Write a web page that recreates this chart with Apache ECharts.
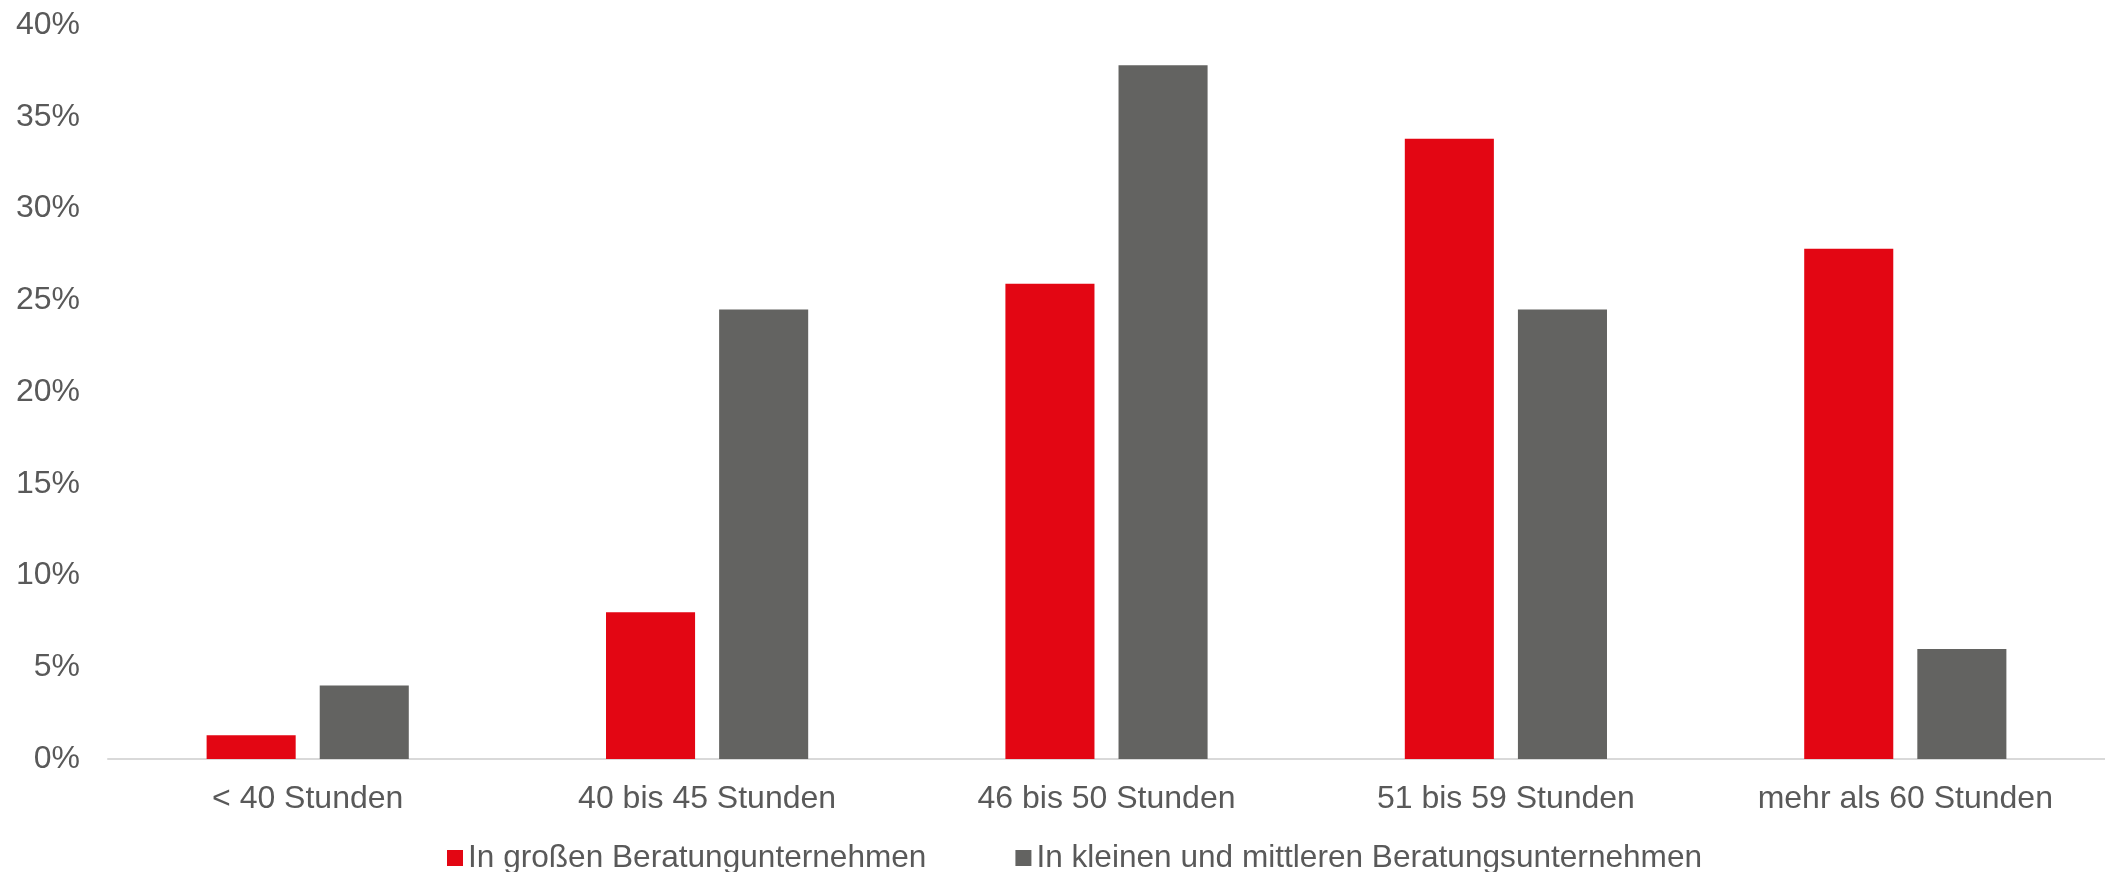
<!DOCTYPE html>
<html>
<head>
<meta charset="utf-8">
<script src="https://cdn.jsdelivr.net/npm/echarts@6/dist/echarts.min.js"></script>
<style>
html,body{margin:0;padding:0;background:#fff;}
#chart{width:2105px;height:872px;}
</style>
</head>
<body>
<div id="chart"></div>
<script>
const categories = ['< 40 Stunden', '40 bis 45 Stunden', '46 bis 50 Stunden', '51 bis 59 Stunden', 'mehr als 60 Stunden'];
const seriesNames = ['In großen Beratungunternehmen', 'In kleinen und mittleren Beratungsunternehmen'];
const largeFirms = [1.3, 8.0, 25.9, 33.8, 27.8];
const smallFirms = [4.0, 24.5, 37.8, 24.5, 6.0];

const font = '"Liberation Sans", Arial, sans-serif';
const textColor = '#595959';
const chart = echarts.init(document.getElementById('chart'));
chart.setOption({
  animation: false,
  grid: {left: 108, right: 0, top: 25, bottom: 113, containLabel: false},
  legend: {
    left: 442, top: 837,
    itemWidth: 16, itemHeight: 16, itemGap: 89,
    icon: 'rect',
    textStyle: {fontFamily: font, fontSize: 31.6, color: textColor},
    data: seriesNames
  },
  xAxis: {
    type: 'category',
    data: categories,
    axisLine: {show: true, lineStyle: {color: '#D9D9D9', width: 2}},
    axisTick: {show: false},
    axisLabel: {fontFamily: font, fontSize: 32, color: textColor, margin: 24}
  },
  yAxis: {
    type: 'value',
    min: 0, max: 40, interval: 5,
    splitLine: {show: false},
    axisLine: {show: false},
    axisTick: {show: false},
    axisLabel: {fontFamily: font, fontSize: 32, color: textColor, margin: 28, formatter: '{value}%'}
  },
  series: [
    {name: seriesNames[0], type: 'bar', data: largeFirms, barWidth: '22.3%', barGap: '27%',
     itemStyle: {color: '#E30613'}},
    {name: seriesNames[1], type: 'bar', data: smallFirms, barWidth: '22.3%', barGap: '27%',
     itemStyle: {color: '#636361'}}
  ]
});
</script>
</body>
</html>
